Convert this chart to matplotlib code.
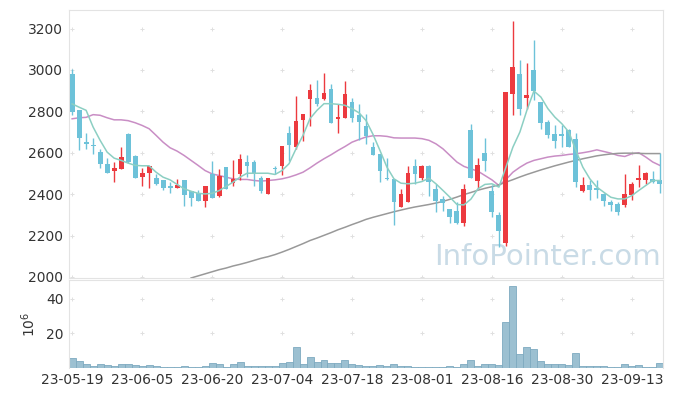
import numpy as np
import matplotlib
matplotlib.use("Agg")
import matplotlib.pyplot as plt

# daily candles (KRW), 23-05-19 .. 23-09-19
opens = [2982, 2805, 2650, 2636, 2606, 2548, 2511, 2521, 2690, 2582,
         2482, 2501, 2480, 2466, 2438, 2429, 2466, 2414, 2404, 2368,
         2498, 2390, 2529, 2453, 2498, 2556, 2553, 2476, 2400, 2523,
         2534, 2693, 2630, 2756, 2858, 2863, 2858, 2906, 2761, 2767,
         2843, 2780, 2727, 2630, 2592, 2480, 2471, 2337, 2361, 2534,
         2477, 2537, 2427, 2377, 2329, 2321, 2261, 2708, 2463, 2601,
         2413, 2297, 2166, 2882, 2982, 2864, 3002, 2843, 2748, 2692,
         2692, 2708, 2664, 2414, 2442, 2429, 2401, 2361, 2350, 2348,
         2398, 2466, 2470, 2471, 2466]
highs = [3006, 2805, 2697, 2672, 2619, 2576, 2554, 2630, 2697, 2587,
         2525, 2537, 2495, 2470, 2458, 2474, 2466, 2414, 2420, 2437,
         2558, 2522, 2529, 2566, 2595, 2590, 2564, 2489, 2480, 2537,
         2634, 2731, 2872, 2785, 2934, 2950, 2987, 2934, 2837, 2945,
         2866, 2834, 2789, 2651, 2592, 2577, 2471, 2426, 2537, 2568,
         2540, 2540, 2450, 2393, 2329, 2361, 2447, 2737, 2574, 2672,
         2442, 2313, 2893, 3237, 3050, 3035, 3143, 2843, 2756, 2732,
         2735, 2716, 2697, 2482, 2466, 2470, 2405, 2372, 2361, 2498,
         2461, 2543, 2506, 2514, 2600]
lows = [2780, 2614, 2617, 2595, 2527, 2501, 2458, 2521, 2550, 2477,
        2438, 2431, 2445, 2418, 2405, 2429, 2342, 2342, 2365, 2340,
        2380, 2385, 2427, 2437, 2469, 2482, 2437, 2404, 2400, 2498,
        2493, 2558, 2619, 2655, 2730, 2824, 2853, 2742, 2695, 2767,
        2748, 2660, 2643, 2587, 2458, 2466, 2253, 2337, 2361, 2450,
        2470, 2393, 2313, 2321, 2261, 2255, 2248, 2477, 2429, 2514,
        2288, 2143, 2150, 2780, 2780, 2813, 2853, 2716, 2670, 2624,
        2627, 2627, 2434, 2410, 2374, 2382, 2345, 2321, 2300, 2340,
        2370, 2434, 2450, 2455, 2405]
closes = [2797, 2671, 2643, 2632, 2545, 2501, 2524, 2581, 2556, 2477,
          2503, 2534, 2448, 2429, 2431, 2442, 2395, 2380, 2368, 2437,
          2382, 2490, 2427, 2471, 2572, 2535, 2498, 2414, 2480, 2520,
          2634, 2635, 2751, 2785, 2901, 2834, 2887, 2742, 2771, 2882,
          2767, 2748, 2679, 2587, 2514, 2472, 2361, 2402, 2503, 2496,
          2534, 2458, 2369, 2356, 2292, 2261, 2425, 2477, 2542, 2559,
          2313, 2224, 2893, 3014, 2811, 2877, 2898, 2743, 2684, 2656,
          2680, 2627, 2461, 2442, 2422, 2418, 2366, 2348, 2313, 2401,
          2450, 2477, 2501, 2461, 2449]

# volume, millions of shares
volume = [5.9, 4.2, 2.4, 1.3, 2.4, 1.9, 1.3, 2.4, 2.4, 1.9,
          1.3, 1.9, 1.3, 0.7, 0.7, 0.7, 1.3, 0.7, 0.7, 1.3,
          3.0, 2.4, 0.7, 2.4, 3.6, 1.3, 1.3, 1.3, 1.3, 1.3,
          3.0, 3.6, 12.4, 2.4, 6.5, 3.6, 4.8, 3.0, 3.0, 4.8,
          2.4, 1.9, 1.3, 1.3, 1.9, 1.3, 2.4, 1.3, 1.3, 0.7,
          0.7, 0.7, 0.7, 0.7, 1.3, 0.7, 2.4, 4.8, 1.3, 2.4,
          2.4, 1.9, 26.9, 47.3, 8.3, 12.4, 11.2, 4.2, 2.4, 2.4,
          2.4, 1.9, 8.9, 1.3, 1.3, 1.3, 1.3, 0.7, 0.7, 2.4,
          1.3, 1.9, 0.7, 0.7, 3.0]

# moving averages as drawn
ma5 = [2836, 2820, 2805, 2724, 2660, 2603, 2574, 2563, 2550, 2539,
       2537, 2537, 2506, 2482, 2469, 2447, 2426, 2414, 2404, 2401,
       2404, 2417, 2437, 2458, 2482, 2501, 2501, 2501, 2501, 2495,
       2514, 2547, 2619, 2684, 2765, 2805, 2837, 2837, 2834, 2829,
       2813, 2793, 2756, 2689, 2611, 2530, 2474, 2453, 2450, 2453,
       2461, 2477, 2450, 2418, 2385, 2350, 2348, 2376, 2426, 2447,
       2450, 2434, 2530, 2627, 2700, 2805, 2898, 2869, 2813, 2772,
       2740, 2700, 2611, 2530, 2474, 2434, 2409, 2385, 2377, 2377,
       2393, 2418, 2442, 2466, 2466]
ma20 = [2764, 2769, 2771, 2784, 2781, 2769, 2759, 2759, 2755, 2745,
        2732, 2716, 2684, 2651, 2624, 2608, 2587, 2563, 2539, 2514,
        2498, 2490, 2482, 2474, 2471, 2471, 2466, 2463, 2466, 2469,
        2474, 2482, 2493, 2506, 2527, 2550, 2571, 2590, 2611, 2630,
        2651, 2664, 2676, 2682, 2682, 2679, 2672, 2671, 2671, 2671,
        2668, 2660, 2643, 2619, 2587, 2555, 2534, 2522, 2511, 2490,
        2469, 2442, 2470, 2506, 2530, 2550, 2563, 2571, 2579, 2584,
        2587, 2592, 2595, 2600, 2606, 2614, 2606, 2598, 2587, 2582,
        2595, 2600, 2579, 2555, 2539]
nan = np.nan
ma_long = [nan] * 17 + [
    1995, 2005, 2015, 2025, 2035, 2043, 2053, 2061, 2070, 2080,
    2090, 2098, 2108, 2120, 2133, 2147, 2161, 2176, 2188, 2201,
    2214, 2228, 2240, 2253, 2265, 2278, 2288, 2297, 2306, 2315,
    2323, 2331, 2338, 2344, 2350, 2357, 2365, 2375, 2386, 2398,
    2408, 2419, 2428, 2436, 2445, 2458, 2470, 2483, 2495, 2506,
    2517, 2527, 2537, 2546, 2555, 2563, 2571, 2578, 2585, 2590,
    2594, 2597, 2598, 2598, 2597, 2596, 2596, 2596]

tick_pos = [0, 10, 20, 30, 40, 50, 60, 70, 80]
tick_labels = ['23-05-19', '23-06-05', '23-06-20', '23-07-04', '23-07-18',
               '23-08-01', '23-08-16', '23-08-30', '23-09-13']

UP = '#ec3a3f'
DOWN = '#6dc2d9'
FRAME = '#e3e3e3'

fig = plt.figure(figsize=(6.73, 3.96), dpi=100)
ax = fig.add_axes([0.1025, 0.298, 0.8826, 0.677])
axv = fig.add_axes([0.1025, 0.071, 0.8826, 0.222], sharex=ax)

x = np.arange(len(closes))
o = np.array(opens, float)
c = np.array(closes, float)
col = [UP if cc >= oo else DOWN for oo, cc in zip(o, c)]

# candles
ax.vlines(x, lows, highs, colors=col, linewidth=1.0, zorder=3)
body = np.maximum(np.abs(c - o), 6)
ax.bar(x, body, bottom=np.minimum(o, c), width=0.7, color=col, zorder=3)

ax.plot(x, ma5, color='#8ccfc3', lw=1.1, zorder=4)
ax.plot(x, ma20, color='#c98ec5', lw=1.1, zorder=2)
ax.plot(x, ma_long, color='#999999', lw=1.1, zorder=2)

ax.text(0.805, 0.08, 'InfoPointer.com', transform=ax.transAxes, fontsize=21,
        color='#c9dbe6', ha='center', va='center', zorder=1)

axv.bar(x, volume, width=1.0, color='#9cc0d1', edgecolor='#7eaac0',
        linewidth=0.6)

# little '+' grid marks
yt = [2000, 2200, 2400, 2600, 2800, 3000, 3200]
gx, gy = np.meshgrid(tick_pos, yt)
ax.scatter(gx.ravel(), gy.ravel(), marker='+', s=9, color='#e0e0e0',
           linewidths=0.7, zorder=0)
gx, gy = np.meshgrid(tick_pos, [20, 40])
axv.scatter(gx.ravel(), gy.ravel(), marker='+', s=9, color='#e0e0e0',
            linewidths=0.7, zorder=0)

ax.set_xlim(-0.45, 84.45)
ax.set_ylim(1995, 3290)
ax.set_yticks(yt)
ax.tick_params(axis='x', labelbottom=False, length=0)
ax.tick_params(axis='y', length=0, labelsize=10, colors='#333333', pad=4)

axv.set_ylim(0, 51)
axv.set_yticks([20, 40])
axv.set_xticks(tick_pos)
axv.set_xticklabels(tick_labels)
axv.tick_params(length=0, labelsize=10, colors='#333333', pad=4)
axv.set_ylabel(r'$10^6$', fontsize=10, color='#333333', labelpad=6)

for a in (ax, axv):
    for s in a.spines.values():
        s.set_color(FRAME)
axv.spines['bottom'].set_visible(False)

fig.savefig('out.png', dpi=100)
